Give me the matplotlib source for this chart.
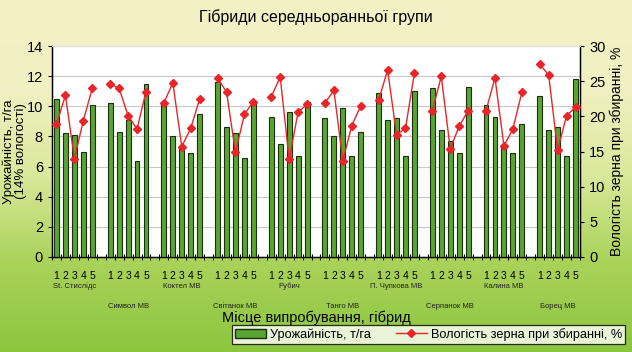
"""Гібриди середньоранньої групи: урожайність і вологість зерна"""
import numpy as np
import matplotlib
matplotlib.use("Agg")
import matplotlib.pyplot as plt
from matplotlib.colors import LinearSegmentedColormap
from matplotlib.lines import Line2D
from matplotlib.patches import Patch

plt.rcParams["font.family"] = ["Liberation Sans", "DejaVu Sans"]

hybrids = ["St. Стислідс", "Символ МВ", "Коктел МВ", "Світанок МВ", "Рубич",
           "Танго МВ", "П. Чупкова МВ", "Серпанок МВ", "Калина МВ", "Борец МВ"]
sites = ["1", "2", "3", "4", "5"]

yield_t = [
    [10.5, 8.2, 8.1, 7.0, 10.1],
    [10.2, 8.3, 9.1, 6.4, 11.5],
    [10.2, 8.0, 7.3, 6.9, 9.5],
    [11.6, 8.6, 8.2, 6.6, 10.3],
    [9.3, 7.5, 9.6, 6.7, 10.3],
    [9.2, 8.0, 9.9, 6.7, 8.3],
    [10.9, 9.1, 9.2, 6.7, 11.0],
    [11.2, 8.4, 7.7, 6.9, 11.3],
    [10.1, 9.3, 7.4, 6.9, 8.8],
    [10.7, 8.4, 8.6, 6.7, 11.8],
]
moisture = [
    [18.9, 23.0, 14.0, 19.4, 24.0],
    [24.6, 24.0, 20.1, 18.2, 23.5],
    [21.9, 24.8, 15.7, 18.3, 22.5],
    [25.4, 23.5, 14.9, 20.3, 22.1],
    [22.8, 25.6, 13.9, 20.6, 21.7],
    [21.9, 23.7, 13.7, 18.7, 21.5],
    [22.3, 26.6, 17.4, 18.3, 26.2],
    [20.8, 25.7, 15.4, 18.6, 20.8],
    [20.8, 25.5, 15.8, 18.2, 23.4],
    [27.4, 25.9, 15.2, 20.1, 21.3],
]

# позиції: 5 стовпчиків на гібрид + порожній слот між групами
n_grp = len(hybrids)
n_site = len(sites)
n_slots = n_grp * (n_site + 1) - 1

fig = plt.figure(figsize=(6.32, 3.52), dpi=100)

# градієнтний фон
bg = fig.add_axes([0, 0, 1, 1], zorder=-10)
cmap = LinearSegmentedColormap.from_list("bg", ["#8cc63e", "#a9d259", "#d9e89a", "#f1f0c2", "#f3f1c6"])
grad = np.linspace(1, 0, 256).reshape(-1, 1)
bg.imshow(grad, aspect="auto", cmap=cmap, extent=[0, 1, 0, 1])
bg.axis("off")

ax1 = fig.add_axes([0.0823, 0.27, 0.8354, 0.599])
ax1.set_facecolor("white")
ax2 = ax1.twinx()

bar_x = []
for g in range(n_grp):
    xs = [g * (n_site + 1) + s for s in range(n_site)]
    bar_x.extend(xs)
    ax1.bar(xs, yield_t[g], width=0.55, color="#5aa532", edgecolor="#1a2e10",
            linewidth=0.8, zorder=3)
    ax2.plot(xs, moisture[g], "-D", color="#e8262a", linewidth=1.0,
             markersize=4, zorder=5)

ax1.set_xlim(-0.5, n_slots - 0.5)
ax1.set_ylim(0, 14)
ax1.set_yticks(range(0, 15, 2))
ax2.set_ylim(0, 30)
ax2.set_yticks(range(0, 31, 5))

ax1.grid(axis="y", color="#c8c8c8", linewidth=0.8, zorder=0)
ax1.set_axisbelow(True)

ax1.set_xticks(bar_x)
ax1.set_xticklabels(sites * n_grp, fontsize=7.5)
ax1.tick_params(axis="x", length=0, pad=10)
ax1.set_xticks(np.arange(-0.5, n_slots, 1.0), minor=True)
ax1.tick_params(axis="x", which="minor", length=5, width=0.8, direction="inout")
ax1.tick_params(axis="y", labelsize=10.5, length=3)
ax2.tick_params(axis="y", labelsize=10.5, length=3)

for sp in ["left", "bottom"]:
    ax1.spines[sp].set_linewidth(1.0)
for sp in ["top"]:
    ax1.spines[sp].set_color("#e0e0e0")
    ax2.spines[sp].set_color("#e0e0e0")
ax2.spines["right"].set_linewidth(1.0)

# підписи гібридів під номерами
for g, name in enumerate(hybrids):
    xc = g * (n_site + 1) + 2
    y = -0.14 if g % 2 == 0 else -0.235
    ax1.text(xc, y, name, transform=ax1.get_xaxis_transform(), ha="center",
             va="center", fontsize=5.5, color="#222222")

ax1.set_ylabel("Урожайність, т/га\n(14% вологості)", fontsize=9.5, labelpad=0,
               linespacing=0.95)
ax2.set_ylabel("Вологість зерна при збиранні, %", fontsize=10, labelpad=3)
fig.text(0.5, 0.097, "Місце випробування, гібрид", ha="center", va="center",
         fontsize=10.5)
fig.text(0.5, 0.952, "Гібриди середньоранньої групи", ha="center", va="center",
         fontsize=11.5)

handles = [Patch(facecolor="#5aa532", edgecolor="#1a2e10", label="Урожайність, т/га"),
           Line2D([], [], color="#e8262a", marker="D", markersize=4, linewidth=1.0,
                  label="Вологість зерна при збиранні, %")]
leg = fig.legend(handles=handles, loc="center", bbox_to_anchor=(0.678, 0.05),
                 ncol=2, fontsize=9.2, frameon=True, fancybox=False,
                 handlelength=2.4, handletextpad=0.3, columnspacing=2.0,
                 borderpad=0.25)
leg.get_frame().set_edgecolor("black")
leg.get_frame().set_linewidth(0.9)
leg.get_frame().set_facecolor("white")

fig.savefig("out.png", dpi=100)
plt.close(fig)
